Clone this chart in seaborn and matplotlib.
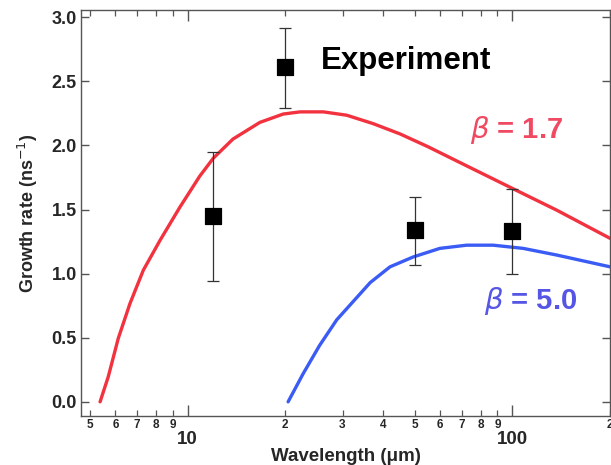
import matplotlib
matplotlib.use("Agg")
import matplotlib.pyplot as plt
import matplotlib.ticker as mticker
import seaborn as sns
import pandas as pd

# ---- data ----
red_x = [5.38, 5.70, 6.12, 6.65, 7.31, 8.23, 9.48, 10.9, 12.0, 13.8, 16.7, 19.7, 22.2, 26.2,
         30.9, 37.3, 45.1, 55.0, 67.3, 100, 137, 200]
red_y = [0.0, 0.195, 0.495, 0.767, 1.027, 1.26, 1.52, 1.76, 1.90, 2.05, 2.18, 2.245, 2.262, 2.262,
         2.236, 2.17, 2.09, 1.99, 1.88, 1.665, 1.495, 1.275]
blue_x = [20.4, 22.7, 25.5, 28.8, 36.5, 42.0, 49.5, 59.8, 72.3, 87.3, 108, 137, 200]
blue_y = [0.0, 0.22, 0.44, 0.64, 0.93, 1.053, 1.13, 1.197, 1.222, 1.222, 1.197, 1.145, 1.053]
exp_x = [12, 20, 50, 100]
exp_y = [1.45, 2.61, 1.34, 1.33]
exp_lo = [0.945, 2.29, 1.07, 0.995]
exp_hi = [1.95, 2.92, 1.60, 1.66]
minor_ticks = [5, 6, 7, 8, 9, 20, 30, 40, 50, 60, 70, 80, 90, 200]
minor_labels = ["5", "6", "7", "8", "9", "2", "3", "4", "5", "6", "7", "8", "9", "2"]
major_ticks = [10, 100]
major_labels = ["10", "100"]
y_ticks = [0, 0.5, 1.0, 1.5, 2.0, 2.5, 3.0]

sns.set_style("ticks")
plt.rcParams['font.family'] = ['Liberation Sans', 'DejaVu Sans']

fig = plt.figure(figsize=(6.11, 4.65), dpi=100)
ax = fig.add_axes([0.1326, 0.105, 0.866, 0.873])

red_df = pd.DataFrame({"x": red_x, "y": red_y})
blue_df = pd.DataFrame({"x": blue_x, "y": blue_y})
exp_df = pd.DataFrame({"x": exp_x, "y": exp_y})

sns.lineplot(data=red_df, x="x", y="y", ax=ax, color="#f2323f", lw=2.4, sort=True)
sns.lineplot(data=blue_df, x="x", y="y", ax=ax, color="#3a5cf4", lw=2.4, sort=True)

yerr = [[y - lo for y, lo in zip(exp_y, exp_lo)], [hi - y for y, hi in zip(exp_y, exp_hi)]]
ax.errorbar(exp_x, exp_y, yerr=yerr, fmt="none", ecolor="#333333", elinewidth=0.9, capsize=4.5, capthick=0.9)
sns.scatterplot(data=exp_df, x="x", y="y", ax=ax, marker="s", s=120, color="black", edgecolor="black", zorder=5)

ax.set_xscale("log")
ax.set_xlim(4.7, 200)
ax.set_ylim(-0.112, 3.055)
ax.set_yticks(y_ticks)
ax.yaxis.set_major_formatter(mticker.FormatStrFormatter("%.1f"))

ax.xaxis.set_major_locator(mticker.FixedLocator(major_ticks))
ax.xaxis.set_minor_locator(mticker.FixedLocator(minor_ticks))
ax.xaxis.set_major_formatter(mticker.FixedFormatter(major_labels))
ax.xaxis.set_minor_formatter(mticker.FixedFormatter(minor_labels))

for side in ["top", "right", "left", "bottom"]:
    ax.spines[side].set_visible(True)
    ax.spines[side].set_color("#555555")
    ax.spines[side].set_linewidth(1.0)

ax.tick_params(axis="both", which="both", direction="in", top=True, right=True, color="#555555")
ax.tick_params(axis="x", which="major", length=8, width=1.0, pad=11, labelsize=13.5)
ax.tick_params(axis="x", which="minor", length=4.5, width=0.9, pad=2, labelsize=8.5)
ax.tick_params(axis="y", which="major", length=6, width=1.0, pad=3, labelsize=13)
for lab in ax.get_xticklabels(which="both") + ax.get_yticklabels():
    lab.set_fontweight("bold")

ax.set_xlabel("Wavelength (μm)", fontsize=13.5, fontweight="bold", labelpad=0)
ax.set_ylabel("Growth rate (ns$^{-1}$)", fontsize=13, fontweight="bold", labelpad=8)

ax.text(0.615, 0.875, "Experiment", transform=ax.transAxes, fontsize=22.5, fontweight="bold",
        ha="center", va="center", color="black")
ax.text(0.823, 0.704, r"$\beta$ = 1.7", transform=ax.transAxes, fontsize=21, fontweight="bold",
        ha="center", va="center", color="#f04a62")
ax.text(0.849, 0.283, r"$\beta$ = 5.0", transform=ax.transAxes, fontsize=21, fontweight="bold",
        ha="center", va="center", color="#5555e6")

fig.savefig("out.png", dpi=100)
